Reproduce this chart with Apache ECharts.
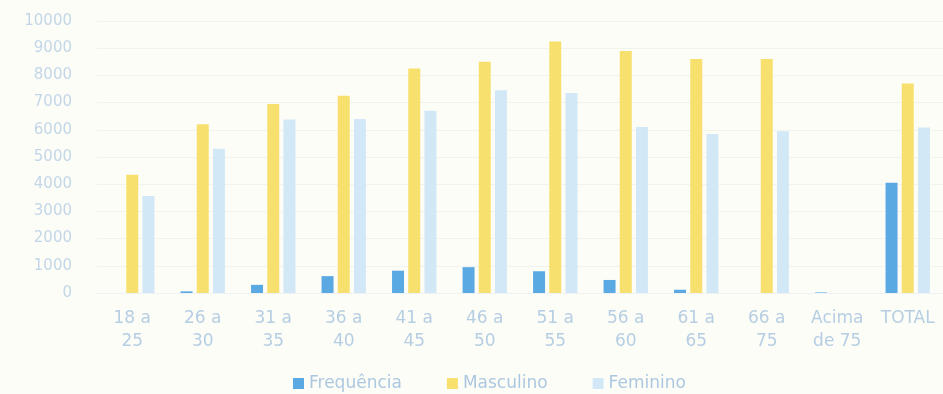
<!DOCTYPE html>
<html>
<head>
<meta charset="utf-8">
<script src="https://cdn.jsdelivr.net/npm/echarts@6/dist/echarts.min.js"></script>
<style>
  html, body { margin: 0; padding: 0; background: #fdfdf8; }
  #chart { width: 943px; height: 394px; }
</style>
</head>
<body>
<div id="chart"></div>
<script>
// Age groups
const categories = ['18 a\n25', '26 a\n30', '31 a\n35', '36 a\n40', '41 a\n45', '46 a\n50',
                    '51 a\n55', '56 a\n60', '61 a\n65', '66 a\n75', 'Acima\nde 75', 'TOTAL'];

// Series values
const frequencia = [0, 60, 300, 620, 820, 950, 800, 480, 120, 0, 20, 4050];
const masculino  = [4350, 6200, 6950, 7250, 8250, 8500, 9250, 8900, 8600, 8600, 0, 7700];
const feminino   = [3570, 5300, 6380, 6400, 6700, 7450, 7350, 6100, 5850, 5950, 0, 6080];

// Value axis ticks
const yMax = 10000;
const yStep = 1000;

const chart = echarts.init(document.getElementById('chart'));

chart.setOption({
  backgroundColor: '#fdfdf8',
  animation: false,
  grid: { left: 97, right: 0, top: 21, bottom: 101 },
  legend: {
    top: 370,
    left: 288,
    itemWidth: 11,
    itemHeight: 11,
    itemGap: 45,
    icon: 'rect',
    textStyle: { color: '#acc8e0', fontSize: 17, fontFamily: 'DejaVu Sans' },
    data: ['Frequência', 'Masculino', 'Feminino']
  },
  xAxis: {
    type: 'category',
    data: categories,
    axisLine: { show: true, lineStyle: { color: '#eef2f4' } },
    axisTick: { show: false },
    axisLabel: {
      color: '#b6cee3',
      fontSize: 17,
      fontFamily: 'DejaVu Sans',
      lineHeight: 23,
      margin: 14,
      interval: 0
    }
  },
  yAxis: {
    type: 'value',
    min: 0,
    max: yMax,
    interval: yStep,
    axisLine: { show: false },
    axisTick: { show: false },
    splitLine: { lineStyle: { color: '#f3f3ee', width: 1 } },
    axisLabel: {
      color: '#c3d6e7',
      fontSize: 15,
      fontFamily: 'DejaVu Sans',
      margin: 25,
      formatter: v => String(v)
    }
  },
  series: [
    {
      name: 'Frequência',
      type: 'bar',
      data: frequencia,
      barWidth: 12,
      barGap: '35%',
      itemStyle: { color: '#5aa9e2' }
    },
    {
      name: 'Masculino',
      type: 'bar',
      data: masculino,
      barWidth: 12,
      barGap: '35%',
      itemStyle: { color: '#f8e06e' }
    },
    {
      name: 'Feminino',
      type: 'bar',
      data: feminino,
      barWidth: 12,
      barGap: '35%',
      itemStyle: { color: '#d3e8f6' }
    }
  ]
});
</script>
</body>
</html>
